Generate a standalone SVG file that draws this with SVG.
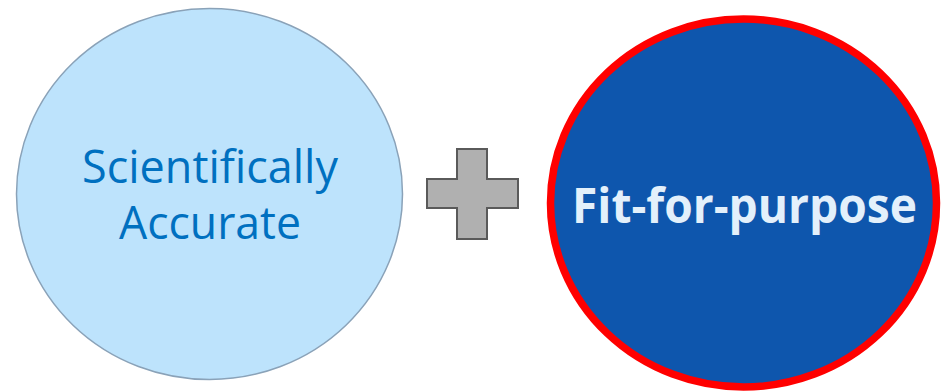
<svg xmlns="http://www.w3.org/2000/svg" width="949" height="391" viewBox="0 0 949 391">
<style>
.lbl{font-family:"Open Sans","Noto Sans","Liberation Sans",sans-serif;text-anchor:middle}
</style>
<rect width="949" height="391" fill="#ffffff"/>
<g id="node-scientific">
<ellipse cx="209.5" cy="194" rx="193" ry="185.5" fill="#bde3fc" stroke="#8aa2b8" stroke-width="1.5"/>
<text class="lbl" x="210" y="183" font-size="46" fill="#0070c0" textLength="256" lengthAdjust="spacingAndGlyphs">Scientifically</text>
<text class="lbl" x="210" y="239" font-size="46" fill="#0070c0" textLength="182" lengthAdjust="spacingAndGlyphs">Accurate</text>
</g>
<g id="node-plus">
<path d="M457,149 H487 V179 H518 V208 H487 V239 H457 V208 H427 V179 H457 Z" fill="#b0b0b0" stroke="#5a5a5a" stroke-width="2"/>
</g>
<g id="node-fit">
<ellipse cx="743.5" cy="203" rx="193" ry="184" fill="#0e56ad" stroke="#ff0000" stroke-width="7.5"/>
<text class="lbl" x="744.5" y="223" font-size="48" font-weight="bold" fill="#e3f0fb" textLength="345" lengthAdjust="spacingAndGlyphs">Fit-for-purpose</text>
</g>
<g id="connectors"></g>
</svg>
